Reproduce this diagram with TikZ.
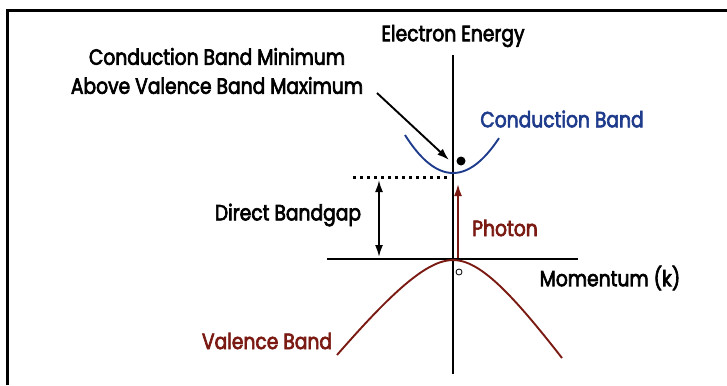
\documentclass[tikz,border=0pt]{standalone}
\usepackage{fontspec}
\setmainfont{Poppins}[FakeStretch=0.85,FakeBold=3]
\usetikzlibrary{arrows.meta,positioning}
\definecolor{bandblue}{HTML}{1F3C8C}
\definecolor{bandred}{HTML}{7A1A12}

\begin{document}
\begin{tikzpicture}[x=1pt,y=-1pt,
    lbl/.style={inner sep=0pt,font=\fontsize{22}{29}\selectfont,align=center},
    arr/.style={-{Latex[length=12pt,width=8pt]},line width=1.9pt},
    axis/.style={line width=1.7pt}
  ]
  \useasboundingbox (0,0) rectangle (727,385);
  \draw[line width=3pt] (7,385) -- (7,11) -- (727,11);
  % axes
  \coordinate (etop) at (453,55);
  \coordinate (ebot) at (453,374);
  \coordinate (kleft) at (327,259);
  \coordinate (kright) at (578,259);
  \draw[axis] (etop) -- (ebot);
  \draw[axis] (kleft) -- (kright);
  \node[lbl] (energy) at (453,36) {Electron Energy};
  \node[lbl] (momentum) at (610,278) {Momentum (k)};
  % bands
  \draw[bandblue,line width=1.9pt] plot[domain=-48:46,samples=40] ({453+\x},{173-0.0165*\x*\x});
  \draw[bandred,line width=1.9pt] (337,355) .. controls (392,292) and (427,260) .. (453,260)
    .. controls (480,260) and (512,294) .. (562,358);
  \node[lbl,text=bandblue] (cband) at (562,119) {Conduction Band};
  \node[lbl,text=bandred] (vband) at (267,341) {Valence Band};
  % minimum / maximum
  \node[lbl] (cbmin) at (217,71) {Conduction Band Minimum\\Above Valence Band Maximum};
  \coordinate (cbtip) at (449,160);
  \draw[arr] (377,93) -- (cbtip);
  \node[circle,fill,inner sep=0pt,minimum size=9pt] (electron) at (461,161) {};
  \node[circle,draw,thick,inner sep=0pt,minimum size=6pt] (hole) at (459,272) {};
  % gap
  \coordinate (gaptop) at (353,177);
  \coordinate (cbmint) at (450,177);
  \draw[line width=3pt,dash pattern=on 3pt off 4pt] (gaptop) -- (cbmint);
  \coordinate (gapup) at (379,180);
  \coordinate (gapdown) at (379,257);
  \draw[arr,{Latex[length=12pt,width=8pt]}-{Latex[length=12pt,width=8pt]}] (gapup) -- (gapdown);
  \node[lbl] (gap) at (288,215) {Direct Bandgap};
  % photon
  \coordinate (phbot) at (458,258);
  \coordinate (phtop) at (458,184);
  \draw[arr,bandred] (phbot) -- (phtop);
  \node[lbl,text=bandred] (photon) at (505,228) {Photon};
\end{tikzpicture}
\end{document}
